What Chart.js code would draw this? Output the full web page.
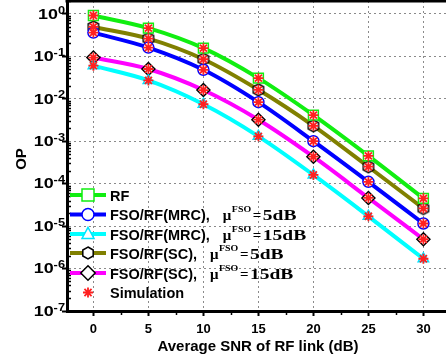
<!DOCTYPE html>
<html>
<head>
<meta charset="utf-8">
<script src="https://cdn.jsdelivr.net/npm/chart.js@4/dist/chart.umd.min.js"></script>
<style>
  html, body { margin: 0; padding: 0; background: #fff; overflow: hidden; }
  #wrap { width: 460px; height: 364px; }
</style>
</head>
<body>
<div id="wrap"><canvas id="myChart" width="460" height="364"></canvas></div>
<script>
// average SNR of RF link (dB)
var snr = [0, 5, 10, 15, 20, 25, 30];

// outage probability
var opRF      = [0.91, 0.46, 0.155, 0.0305, 0.0041, 4.5e-4, 4.5e-5];
var opMRC5    = [0.36, 0.16, 0.048, 0.0083, 0.0010, 1.1e-4, 1.15e-5];
var opMRC15   = [0.060, 0.027, 0.0074, 0.0013, 1.6e-4, 1.7e-5, 1.7e-6];
var opSC5     = [0.49, 0.26, 0.085, 0.0162, 0.0023, 2.5e-4, 2.6e-5];
var opSC15    = [0.093, 0.050, 0.016, 0.0032, 4.3e-4, 4.6e-5, 4.9e-6];

var xTicks = [0, 5, 10, 15, 20, 25, 30];
var yTicks = [1e-7, 1e-6, 1e-5, 1e-4, 1e-3, 1e-2, 1e-1, 1];

var legendNames = ['RF', 'FSO/RF(MRC),', 'FSO/RF(MRC),', 'FSO/RF(SC),', 'FSO/RF(SC),', 'Simulation'];
var legendMu = [null, '5dB', '15dB', '5dB', '15dB', null];

function pts(ys) {
	var out = [];
	for (var i = 0; i < snr.length; i++) out.push({x: snr[i], y: ys[i]});
	return out;
}

function hexPath(g, x, y, r) {
	g.beginPath();
	for (var i = 0; i < 6; i++) {
		var a = -Math.PI / 2 + i * Math.PI / 3;
		var px = x + r * Math.cos(a), py = y + r * Math.sin(a);
		if (i == 0) g.moveTo(px, py); else g.lineTo(px, py);
	}
	g.closePath();
}

function hexImage(r) {
	var c = document.createElement('canvas');
	c.width = c.height = 2 * r + 4;
	var g = c.getContext('2d');
	hexPath(g, r + 2, r + 2, r);
	g.fillStyle = '#fff';
	g.fill();
	g.lineWidth = 1.5;
	g.strokeStyle = '#000';
	g.stroke();
	return c;
}
var hexImg = hexImage(6);

var series = [
	{data: opRF,    color: '#11ee11', style: 'rect',     marker: '#11ee11', r: 7},
	{data: opMRC5,  color: '#0000ff', style: 'circle',   marker: '#0000ff', r: 5.5},
	{data: opMRC15, color: '#00ffff', style: 'triangle', marker: '#00e5ff', r: 6},
	{data: opSC5,   color: '#808000', style: 'hex',      marker: '#000',    r: 6},
	{data: opSC15,  color: '#ff00ff', style: 'rectRot',  marker: '#000',    r: 6.5}
];

var simPoints = [];
series.forEach(function(s) { simPoints = simPoints.concat(pts(s.data)); });

var datasets = [{
	label: 'Simulation',
	data: simPoints,
	showLine: false,
	pointStyle: 'star',
	pointRadius: 5,
	pointBorderColor: '#ff2020',
	pointBorderWidth: 1.8,
	order: 0
}];
series.forEach(function(s, i) {
	datasets.push({
		label: legendNames[i],
		data: pts(s.data),
		borderColor: s.color,
		borderWidth: 4,
		cubicInterpolationMode: 'monotone',
		pointStyle: s.style == 'hex' ? hexImg : s.style,
		pointRadius: s.r,
		pointBackgroundColor: '#fff',
		pointBorderColor: s.marker,
		pointBorderWidth: 1.5,
		order: i + 1
	});
});

function drawMarker(ctx, style, x, y, r, color) {
	ctx.save();
	ctx.lineWidth = 1.5;
	ctx.strokeStyle = color;
	ctx.fillStyle = '#fff';
	ctx.beginPath();
	if (style == 'rect') {
		ctx.rect(x - r, y - r, 2 * r, 2 * r);
	} else if (style == 'circle') {
		ctx.arc(x, y, r, 0, Math.PI * 2);
	} else if (style == 'triangle') {
		ctx.moveTo(x, y - r * 1.1);
		ctx.lineTo(x + r, y + r * 0.75);
		ctx.lineTo(x - r, y + r * 0.75);
		ctx.closePath();
	} else if (style == 'hex') {
		hexPath(ctx, x, y, r);
	} else if (style == 'rectRot') {
		ctx.moveTo(x, y - r * 1.2);
		ctx.lineTo(x + r * 1.2, y);
		ctx.lineTo(x, y + r * 1.2);
		ctx.lineTo(x - r * 1.2, y);
		ctx.closePath();
	}
	if (style != 'star') { ctx.fill(); ctx.stroke(); }
	if (style == 'star') {
		ctx.lineWidth = 1.8;
		for (var k = 0; k < 4; k++) {
			var a = k * Math.PI / 4;
			ctx.moveTo(x - r * Math.cos(a), y - r * Math.sin(a));
			ctx.lineTo(x + r * Math.cos(a), y + r * Math.sin(a));
		}
		ctx.stroke();
	}
	ctx.restore();
}

// text squeezed/stretched horizontally
function wideText(ctx, txt, x, y, sx) {
	ctx.save();
	ctx.translate(x, y);
	ctx.scale(sx, 1);
	ctx.fillText(txt, 0, 0);
	ctx.restore();
}

var decor = {
	id: 'decor',
	afterDraw: function(chart) {
		var ctx = chart.ctx;
		var area = chart.chartArea;
		var xs = chart.scales.x, ys = chart.scales.y;
		ctx.save();

		// top frame
		ctx.strokeStyle = '#000';
		ctx.lineWidth = 3;
		ctx.beginPath();
		ctx.moveTo(area.left - 1.5, area.top);
		ctx.lineTo(area.right, area.top);
		ctx.stroke();

		// minor ticks
		ctx.lineWidth = 1.5;
		ctx.beginPath();
		for (var d = -7; d <= 0; d++) {
			for (var k = 2; k <= 9; k++) {
				var v = k * Math.pow(10, d);
				if (v > ys.max) continue;
				var py = Math.round(ys.getPixelForValue(v)) + 0.5;
				ctx.moveTo(area.left, py);
				ctx.lineTo(area.left + 4, py);
			}
		}
		for (var m = 2.5; m < xs.max; m += 5) {
			var px = Math.round(xs.getPixelForValue(m)) + 0.5;
			ctx.moveTo(px, area.bottom);
			ctx.lineTo(px, area.bottom + 4);
		}
		ctx.stroke();

		ctx.fillStyle = '#000';
		// y tick labels 10^n
		var sx = 1.28;
		yTicks.forEach(function(v) {
			var py = ys.getPixelForValue(v);
			var e = String(Math.round(Math.log10(v)));
			ctx.font = 'bold 10px "Liberation Sans", Arial, sans-serif';
			var eW = ctx.measureText(e).width * sx;
			ctx.font = 'bold 14px "Liberation Sans", Arial, sans-serif';
			var bW = ctx.measureText('10').width * sx;
			var right = 65;
			ctx.textBaseline = 'middle';
			ctx.textAlign = 'left';
			wideText(ctx, '10', right - eW - bW, py + 1, sx);
			ctx.font = 'bold 10px "Liberation Sans", Arial, sans-serif';
			wideText(ctx, e, right - eW, py - 3, sx);
		});

		// x tick labels
		ctx.font = 'bold 13px "Liberation Sans", Arial, sans-serif';
		ctx.textAlign = 'center';
		ctx.textBaseline = 'middle';
		xTicks.forEach(function(v) {
			ctx.fillText(String(v), xs.getPixelForValue(v), 329);
		});

		// axis titles
		ctx.font = 'bold 15px "Liberation Sans", Arial, sans-serif';
		ctx.fillText('Average SNR of RF link (dB)', 258, 347);
		ctx.save();
		ctx.translate(22, 159);
		ctx.rotate(-Math.PI / 2);
		ctx.fillText('OP', 0, 0);
		ctx.restore();

		// legend
		var rowY = [195, 214.5, 234, 253, 273, 292.5];
		var styles = ['rect', 'circle', 'triangle', 'hex', 'rectRot', 'star'];
		for (var i = 0; i < 6; i++) {
			var y = rowY[i];
			if (i < 5) {
				ctx.strokeStyle = series[i].color;
				ctx.lineWidth = 4;
				ctx.beginPath();
				ctx.moveTo(70, y);
				ctx.lineTo(106, y);
				ctx.stroke();
				drawMarker(ctx, styles[i], 88, y, 6, series[i].marker);
			} else {
				drawMarker(ctx, 'star', 88, y, 5, '#ff2020');
			}
			ctx.fillStyle = '#000';
			ctx.textAlign = 'left';
			ctx.textBaseline = 'alphabetic';
			ctx.font = 'bold 14.5px "Liberation Sans", Arial, sans-serif';
			ctx.fillText(legendNames[i], 110, y + 5.5);
			if (legendMu[i]) {
				var muX = 110 + ctx.measureText(legendNames[i]).width + 13;
				ctx.font = 'bold 15px "Liberation Serif", "Times New Roman", serif';
				ctx.fillText('\u03bc', muX, y + 5.5);
				ctx.font = 'bold 9px "Liberation Serif", "Times New Roman", serif';
				wideText(ctx, 'FSO', muX + 9, y - 2.5, 1.1);
				ctx.font = 'bold 15px "Liberation Serif", "Times New Roman", serif';
				wideText(ctx, '=', muX + 30, y + 5.5, 1.0);
				wideText(ctx, legendMu[i], muX + 40, y + 5.5, 1.3);
			}
		}
		ctx.restore();
	}
};

var ctx = document.getElementById('myChart');
var myChart = new Chart(ctx, {
	type: 'line',
	data: { datasets: datasets },
	options: {
		responsive: false,
		animation: false,
		events: [],
		layout: { autoPadding: false, padding: { top: 1, right: 8, bottom: 0, left: 0 } },
		plugins: { legend: { display: false }, tooltip: { enabled: false } },
		scales: {
			x: {
				type: 'linear',
				min: -2.4,
				max: 32.6,
				afterBuildTicks: function(axis) { axis.ticks = xTicks.map(function(v) { return {value: v}; }); },
				afterFit: function(axis) { axis.height = 53; },
				ticks: { display: false },
				grid: { color: '#8a8a8a', lineWidth: 1, tickLength: 5, tickColor: '#000', tickWidth: 2 },
				border: { color: '#000', width: 3, dash: [2, 3] }
			},
			y: {
				type: 'logarithmic',
				min: 1e-7,
				max: 2,
				afterBuildTicks: function(axis) { axis.ticks = yTicks.map(function(v) { return {value: v}; }); },
				afterFit: function(axis) { axis.width = 67; },
				ticks: { display: false },
				grid: { color: '#8a8a8a', lineWidth: 1, tickLength: 5, tickColor: '#000', tickWidth: 2 },
				border: { color: '#000', width: 3, dash: [2, 3] }
			}
		}
	},
	plugins: [decor]
});
</script>
</body>
</html>
